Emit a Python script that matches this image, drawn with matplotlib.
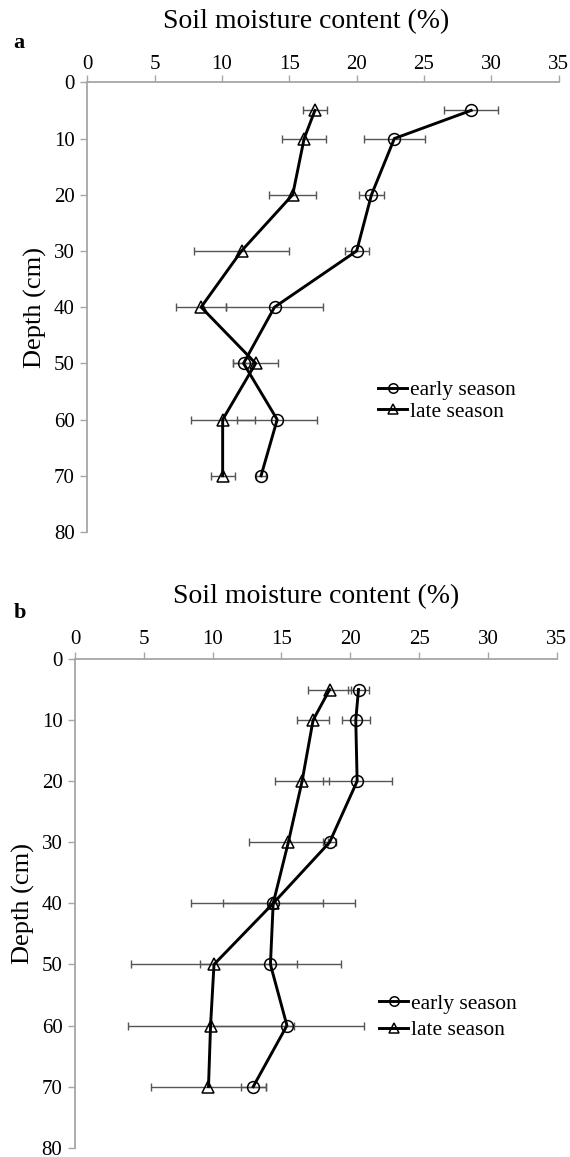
import numpy as np
import matplotlib.pyplot as plt

plt.rcParams['font.family'] = ['Liberation Serif', 'DejaVu Serif']

depth = [5, 10, 20, 30, 40, 50, 60, 70]

# panel a
a_early = [28.5, 22.8, 21.1, 20.0, 13.9, 11.6, 14.1, 12.9]
a_early_err = [2.0, 2.25, 0.95, 0.9, 3.6, 0.8, 2.95, 0.4]
a_late = [16.9, 16.1, 15.25, 11.45, 8.45, 12.5, 10.05, 10.05]
a_late_err = [0.9, 1.63, 1.75, 3.5, 1.85, 1.65, 2.38, 0.9]

# panel b
b_early = [20.6, 20.4, 20.5, 18.5, 14.4, 14.2, 15.4, 12.95]
b_early_err = [0.75, 1.03, 2.5, 0.5, 3.65, 5.1, 5.6, 0.9]
b_late = [18.5, 17.3, 16.5, 15.5, 14.4, 10.1, 9.85, 9.7]
b_late_err = [1.55, 1.15, 1.95, 2.85, 5.95, 6.05, 6.03, 4.2]

xticks = [0, 5, 10, 15, 20, 25, 30, 35]
yticks = [0, 10, 20, 30, 40, 50, 60, 70, 80]

W, H = 570, 1157
fig = plt.figure(figsize=(W / 100, H / 100), dpi=100)

gray = '#a6a6a6'


def panel(rect, early, early_err, late, late_err, letter, title_xy, letter_xy,
          leg_xy, xpad, labspace):
    l, t, r, b = rect
    ax = fig.add_axes([l / W, 1 - b / H, (r - l) / W, (b - t) / H])
    ekw = dict(fmt='none', ecolor='#555555', elinewidth=1, capsize=2.6,
               capthick=1, zorder=1)
    ax.errorbar(early, depth, xerr=early_err, **ekw)
    ax.errorbar(late, depth, xerr=late_err, **ekw)
    kw = dict(color='black', lw=2.1, ms=8.5, mfc='none', mew=1.1, zorder=3)
    ax.plot(early, depth, marker='o', label='early season', **kw)
    ax.plot(late, depth, marker='^', label='late season', **kw)
    ax.set_xlim(0, 35)
    ax.set_ylim(80, 0)
    ax.set_xticks(xticks)
    ax.set_yticks(yticks)
    ax.xaxis.tick_top()
    for s in ['right', 'bottom']:
        ax.spines[s].set_visible(False)
    for s in ['left', 'top']:
        ax.spines[s].set_color(gray)
        ax.spines[s].set_linewidth(1.3)
    ax.tick_params(axis='both', colors=gray, length=5, width=1, labelcolor='black',
                   labelsize=15)
    ax.tick_params(axis='x', pad=xpad)
    ax.tick_params(axis='y', pad=4)
    ax.set_ylabel('Depth (cm)', fontsize=19, labelpad=5)
    fig.text(title_xy[0] / W, 1 - title_xy[1] / H, 'Soil moisture content (%)',
             fontsize=20, ha='center', va='center')
    fig.text(letter_xy[0] / W, 1 - letter_xy[1] / H, letter, fontsize=16,
             fontweight='bold', ha='center', va='center')
    ax.legend(loc='center left', bbox_to_anchor=(leg_xy[0] / W, 1 - leg_xy[1] / H),
              bbox_transform=fig.transFigure, frameon=False, fontsize=15.5,
              handlelength=1.35, handletextpad=0.15, borderpad=0,
              borderaxespad=0, labelspacing=labspace, numpoints=1,
              markerscale=0.8)
    return ax


panel((87.3, 82.3, 558.7, 532), a_early, a_early_err, a_late, a_late_err, 'a',
      (306, 22), (19, 43), (378, 401), 1, 0.05)
panel((75, 659, 556.7, 1147.7), b_early, b_early_err, b_late, b_late_err, 'b',
      (316, 597), (20, 613), (379, 1017), 2, 0.3)

fig.savefig('out.png', dpi=100)
